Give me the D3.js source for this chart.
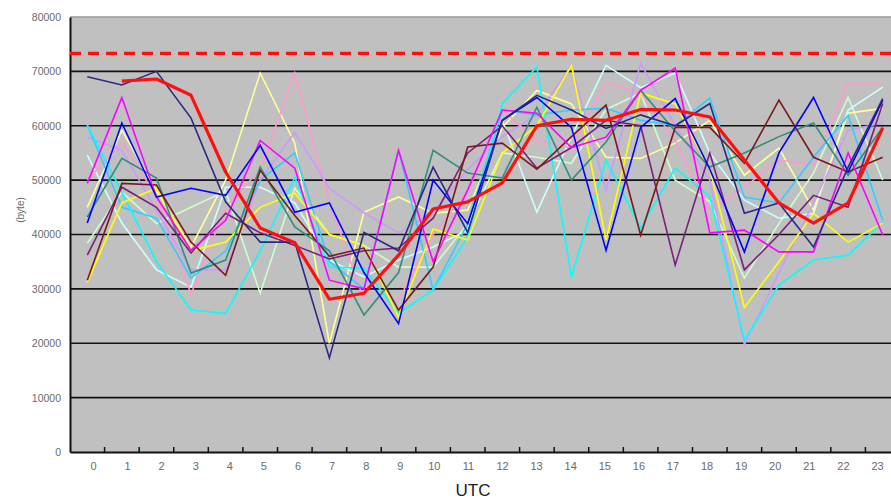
<!DOCTYPE html>
<html><head><meta charset="utf-8">
<script src="https://cdn.jsdelivr.net/npm/d3@7"></script>
<style>body{margin:0;background:#fff;}svg{display:block;font-family:Arial,"Liberation Sans",sans-serif;}</style>
</head><body>
<svg id="c" width="891" height="500"></svg>
<script>
const hours = d3.range(24).map(String);
const yTicks = [0,10000,20000,30000,40000,50000,60000,70000,80000];
const limitValue = 73300;
const navy = [69000,67500,70000,61400,46000,38600,38600,17300,40400,37000,52400,40400,61000,65600,62900,59500,62000,60000,64100,43900,45800,37700,52400,65000];
const blue = [42100,60500,46900,48500,47200,56400,44100,45800,33000,23600,50000,42000,61000,65200,59700,37100,59700,65000,52000,36800,55000,65200,51500,64700];
const magenta = [49400,65200,46900,37100,42600,57300,52200,31600,30000,55500,35000,48200,62900,62300,56000,57900,66500,70600,40300,40800,36800,36800,55000,39900];
const yellow = [31200,45800,48500,37000,38600,45000,47600,40000,38000,24800,41000,39000,55000,60000,71100,39000,66000,64000,52000,26600,35000,43900,38600,42100];
const lightYellow = [45000,59200,48000,37700,50000,69700,56800,20000,44100,46900,43900,44500,59700,66500,64000,54200,54000,56800,61000,50900,55900,44500,62300,63200];
const cyan = [60100,47800,35000,26100,25500,37000,50500,34000,33800,25500,29800,39500,64100,70800,32200,53700,41200,52200,47000,20600,30700,35300,36200,42300];
const skyBlue = [60100,45000,43000,32000,37000,50000,55000,35000,30000,55500,29800,42000,62900,62000,62900,63200,61000,60000,65100,46900,45800,54200,61900,42600];
const pink = [50000,57000,47000,29000,45000,52000,69700,46000,28000,28000,40000,48000,62900,57300,55900,68000,66000,57300,44500,48700,53700,52800,67800,67800];
const lavender = [57900,55500,44500,33500,33500,50000,58800,48500,44000,40300,44000,52000,58000,62000,71000,48200,71500,60000,50000,19700,33000,45800,59200,60500];
const teal = [43200,54000,50400,32900,35300,52400,41400,37000,25200,33000,55500,51300,50400,63400,50000,57000,66500,59000,52400,55000,58000,60500,50900,59700];
const maroon = [31600,49400,49100,38600,32500,51800,43500,36000,37500,26100,34000,56100,56800,52000,58000,63800,39900,59700,59700,53100,64700,54200,51500,54200];
const purple = [36200,48700,45000,36600,43900,40300,38000,35500,37000,37500,43000,55000,60000,52200,56000,61000,60000,34400,55000,33500,40000,47200,45000,64100];
const lightCyan = [54600,42100,33500,30300,48700,48700,45800,35300,32200,35300,37700,40800,61000,44100,58000,71100,67000,69700,55000,46300,43000,43900,62900,67100];
const lightGreen = [38400,47800,42000,45000,48000,29200,48500,40000,38000,34000,34000,42000,55000,54200,53100,63000,66000,50000,46000,32000,42000,51300,65200,50000];
const average = [null,68200,68600,65600,51500,41200,38500,28100,29200,36200,44700,46000,49500,60000,61200,61000,63000,62900,61600,53700,45800,42100,45800,59600];

const series = [
  {v: lightGreen, c:"#ccffcc"}, {v: lightCyan, c:"#ccffff"}, {v: lightYellow, c:"#ffff99"},
  {v: pink, c:"#ff99cc"}, {v: lavender, c:"#cc99ff"}, {v: skyBlue, c:"#33ccff"},
  {v: cyan, c:"#00ffff"}, {v: yellow, c:"#ffff00"}, {v: teal, c:"#2f8f7a"},
  {v: purple, c:"#7a1f7a"}, {v: maroon, c:"#7a1a1a"}, {v: magenta, c:"#ff00ff"},
  {v: blue, c:"#0000ff"}, {v: navy, c:"#2a2a80"}
];

const svg = d3.select("#c");
const L = 70, R = 900, T = 17, B = 452;
const x = d3.scaleBand().domain(hours).range([L, R]);
const xLabel = d3.scalePoint().domain(hours).range([93, 877]);
const y = d3.scaleLinear().domain([0, 80000]).range([B, T]);

svg.append("rect").attr("x", L).attr("y", T).attr("width", R - L).attr("height", B - T).attr("fill", "#c0c0c0");
svg.append("line").attr("x1", L).attr("x2", R).attr("y1", T).attr("y2", T).attr("stroke", "#9a9a9a").attr("stroke-width", 1.5);

// grid
svg.append("g").selectAll("line").data(yTicks.filter(d => d > 0 && d < 80000)).join("line")
  .attr("x1", L).attr("x2", R).attr("y1", d => y(d)).attr("y2", d => y(d))
  .attr("stroke", "#111").attr("stroke-width", 1.6);

// y axis
const ya = svg.append("g").attr("transform", `translate(${L},0)`)
  .call(d3.axisLeft(y).tickValues(yTicks).tickSize(0).tickPadding(9).tickFormat(d3.format("d")));
ya.select(".domain").attr("stroke", "#111").attr("stroke-width", 2);
ya.selectAll("text").attr("fill", "#6a6a6a").attr("font-size", 10.5);

// x axis line + ticks at category boundaries
const xa = svg.append("g").attr("transform", `translate(0,${B})`)
  .call(d3.axisBottom(x).tickSize(0).tickFormat(""));
xa.select(".domain").attr("stroke", "#111").attr("stroke-width", 2);
xa.append("g").selectAll("line").data(hours.slice(1)).join("line")
  .attr("x1", d => x(d)).attr("x2", d => x(d)).attr("y1", 0).attr("y2", -5)
  .attr("stroke", "#111").attr("stroke-width", 1.5);

// x labels
const xl = svg.append("g").attr("transform", `translate(0,${B})`)
  .call(d3.axisBottom(xLabel).tickSize(0).tickPadding(10));
xl.select(".domain").remove();
xl.selectAll("text").attr("fill", "#6a6a6a").attr("font-size", 11);

const cx = i => x(hours[i]) + x.bandwidth() / 2;
const line = d3.line().defined(d => d != null).x((d, i) => cx(i)).y(d => y(d));

svg.append("g").selectAll("path").data(series).join("path")
  .attr("d", s => line(s.v)).attr("fill", "none").attr("stroke", s => s.c)
  .attr("stroke-width", 1.6).attr("stroke-linejoin", "miter");

svg.append("path").attr("d", line(average)).attr("fill", "none")
  .attr("stroke", "#ff1010").attr("stroke-width", 3.2).attr("stroke-linejoin", "round");

svg.append("line").attr("x1", L).attr("x2", R).attr("y1", y(limitValue)).attr("y2", y(limitValue))
  .attr("stroke", "#ff1010").attr("stroke-width", 3.2).attr("stroke-dasharray", "11,7");

svg.append("text").attr("x", 473).attr("y", 496).attr("text-anchor", "middle")
  .attr("font-size", 17).attr("fill", "#222").text("UTC");
svg.append("text").attr("transform", "translate(24,210) rotate(-90)").attr("text-anchor", "middle")
  .attr("font-size", 10).attr("fill", "#6a6a6a").text("(byte)");
</script>
</body></html>
